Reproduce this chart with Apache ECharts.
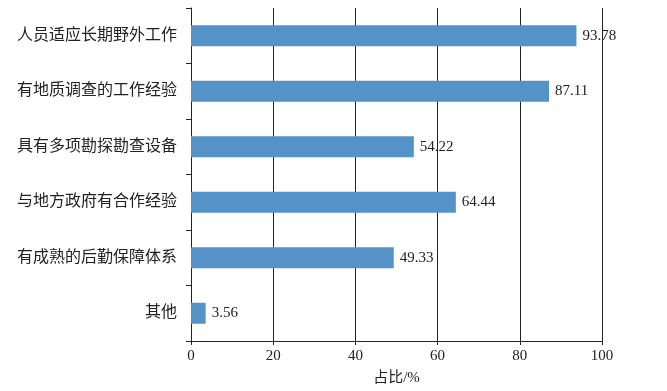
<!DOCTYPE html>
<html><head><meta charset="utf-8">
<script src="https://cdn.jsdelivr.net/npm/echarts@6/dist/echarts.min.js"></script>
<style>html,body{margin:0;padding:0;background:#fff}#c{width:667px;height:391px}</style>
</head><body><div id="c"></div>
<script>
const categories = ['人员适应长期野外工作','有地质调查的工作经验','具有多项勘探勘查设备','与地方政府有合作经验','有成熟的后勤保障体系','其他'];
const values = [93.78, 87.11, 54.22, 64.44, 49.33, 3.56];
const xTicks = [0, 20, 40, 60, 80, 100];
const xName = '占比/%';

const font = '"Liberation Serif", "Noto Sans CJK SC", serif';
const chart = echarts.init(document.getElementById('c'));
chart.setOption({
  animation: false,
  grid: {left: 191, right: 65, top: 8, bottom: 49, containLabel: false},
  xAxis: {
    type: 'value', min: xTicks[0], max: xTicks[xTicks.length-1], interval: 20,
    name: xName, nameLocation: 'middle', nameGap: 30,
    nameTextStyle: {fontFamily: font, fontSize: 15, color: '#222'},
    axisLine: {show: true, lineStyle: {color: '#222', width: 1}},
    axisTick: {show: true, length: 4, lineStyle: {color: '#222'}},
    axisLabel: {fontFamily: font, fontSize: 15, color: '#222', margin: 8},
    splitLine: {show: true, lineStyle: {color: '#222', width: 1}}
  },
  yAxis: {
    type: 'category', data: categories, inverse: true,
    axisLine: {show: true, lineStyle: {color: '#222', width: 1}},
    axisTick: {show: true, length: 5, alignWithLabel: false, lineStyle: {color: '#222'}},
    axisLabel: {fontFamily: font, fontSize: 16, color: '#222', margin: 14}
  },
  series: [{
    type: 'bar', data: values, barWidth: 21,
    itemStyle: {color: '#5592c8'},
    label: {show: true, position: 'right', distance: 6, fontFamily: font, fontSize: 15, color: '#222',
      formatter: p => p.value.toFixed(2)}
  }]
});
</script></body></html>
